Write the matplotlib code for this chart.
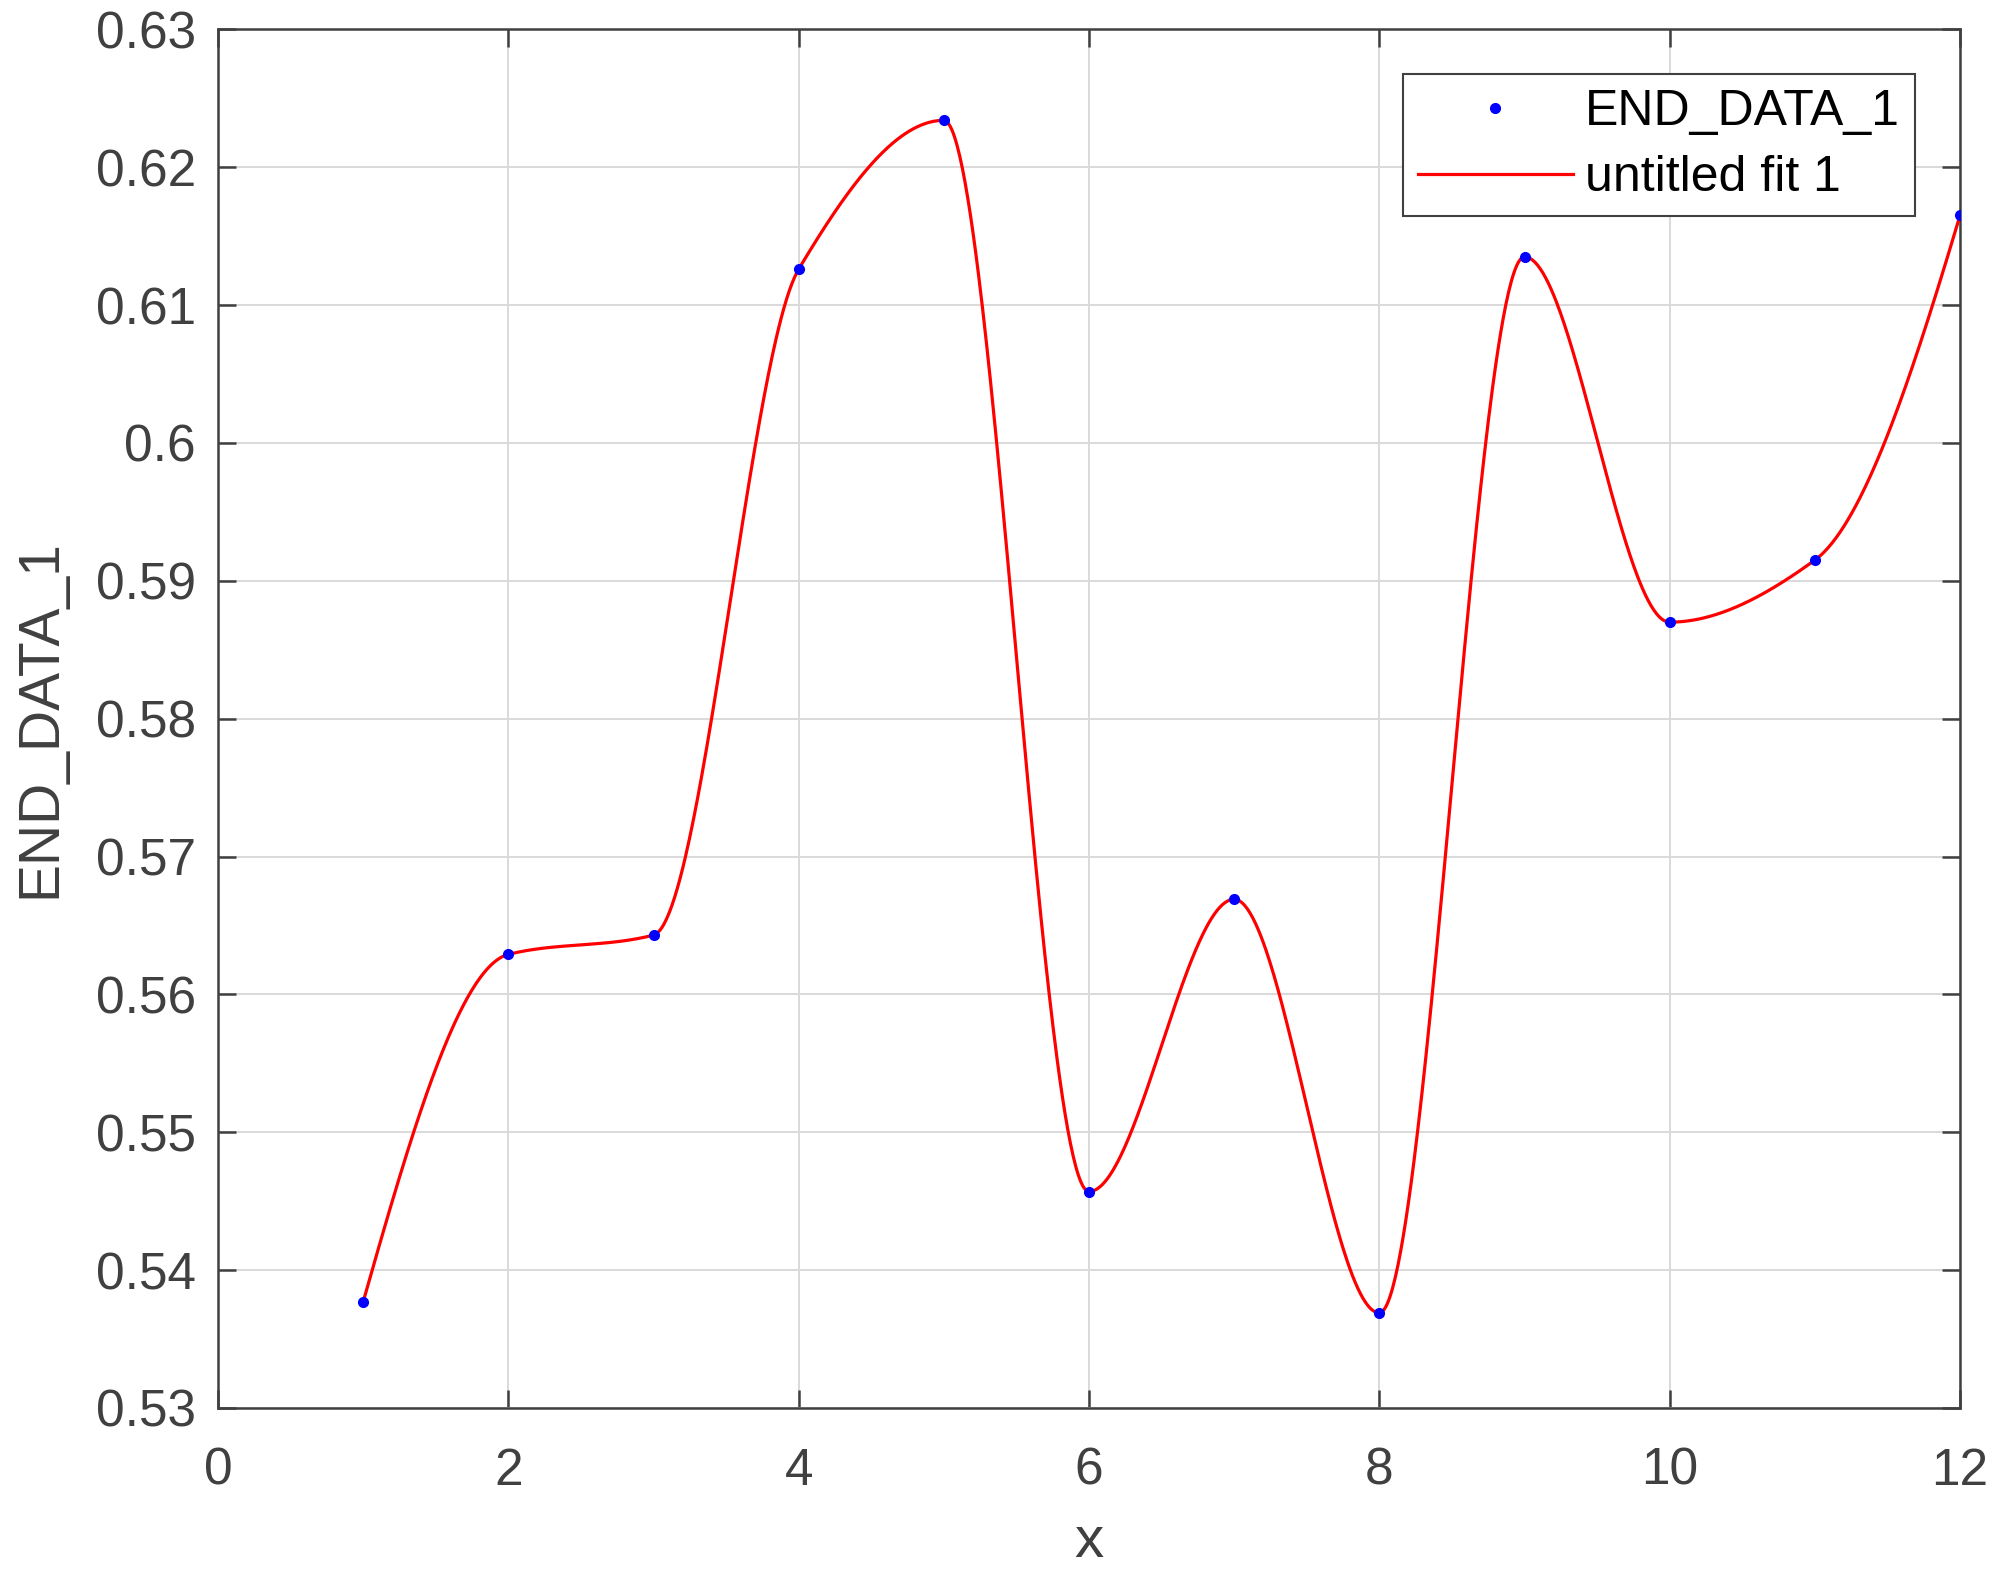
import numpy as np
import matplotlib
matplotlib.use('Agg')
import matplotlib.pyplot as plt

# data points
x_data = [1, 2, 3, 4, 5, 6, 7, 8, 9, 10, 11, 12]
y_data = [0.5377, 0.5629, 0.5643, 0.6126, 0.6234, 0.5457,
          0.5669, 0.5369, 0.6135, 0.5870, 0.5915, 0.6165]

x_ticks = [0, 2, 4, 6, 8, 10, 12]
y_ticks = [0.53, 0.54, 0.55, 0.56, 0.57, 0.58, 0.59, 0.60, 0.61, 0.62, 0.63]
y_ticklabels = ['0.53', '0.54', '0.55', '0.56', '0.57', '0.58', '0.59', '0.6', '0.61', '0.62', '0.63']


def pchip_slopes(x, y):
    h = np.diff(x)
    d = np.diff(y) / h
    m = np.zeros_like(y)
    for k in range(1, len(x) - 1):
        if d[k - 1] * d[k] > 0:
            w1 = 2 * h[k] + h[k - 1]
            w2 = h[k] + 2 * h[k - 1]
            m[k] = (w1 + w2) / (w1 / d[k - 1] + w2 / d[k])
    # end points
    for i, (h0, h1, d0, d1) in ((0, (h[0], h[1], d[0], d[1])), (-1, (h[-1], h[-2], d[-1], d[-2]))):
        s = ((2 * h0 + h1) * d0 - h0 * d1) / (h0 + h1)
        if np.sign(s) != np.sign(d0):
            s = 0.0
        elif np.sign(d0) != np.sign(d1) and abs(s) > abs(3 * d0):
            s = 3 * d0
        m[i] = s
    return m


def pchip_eval(x, y, xq):
    m = pchip_slopes(x, y)
    idx = np.clip(np.searchsorted(x, xq) - 1, 0, len(x) - 2)
    h = x[idx + 1] - x[idx]
    t = (xq - x[idx]) / h
    h00 = 2 * t**3 - 3 * t**2 + 1
    h10 = t**3 - 2 * t**2 + t
    h01 = -2 * t**3 + 3 * t**2
    h11 = t**3 - t**2
    return h00 * y[idx] + h10 * h * m[idx] + h01 * y[idx + 1] + h11 * h * m[idx + 1]


xd = np.array(x_data, dtype=float)
yd = np.array(y_data, dtype=float)
xf = np.linspace(xd[0], xd[-1], 1200)
yf = pchip_eval(xd, yd, xf)

plt.rcParams['font.family'] = ['Liberation Sans', 'DejaVu Sans']
axis_col = '#404040'

fig = plt.figure(figsize=(20, 15.94), dpi=100)
ax = fig.add_axes([0.109, 0.1167, 0.871, 0.8649])

ax.plot(xd, yd, 'o', color='#0000ff', markersize=7, label='END_DATA_1', zorder=4)
ax.plot(xf, yf, '-', color='#ff0000', linewidth=2.3, label='untitled fit 1', zorder=3)

ax.set_xlim(0, 12)
ax.set_ylim(0.53, 0.63)
ax.set_xticks(x_ticks)
ax.set_yticks(y_ticks)
ax.set_yticklabels(y_ticklabels)
ax.grid(True, color='#d9d9d9', linewidth=1.4)
ax.set_axisbelow(True)

ax.tick_params(direction='in', length=13, width=1.8, colors=axis_col,
               labelsize=37, top=True, right=True)
ax.tick_params(axis='y', pad=16)
ax.tick_params(axis='x', pad=28)
for sp in ax.spines.values():
    sp.set_color(axis_col)
    sp.set_linewidth(1.8)

ax.set_xlabel('x', fontsize=42, color=axis_col, labelpad=14)
ax.set_ylabel('END_DATA_1', fontsize=41, color=axis_col, labelpad=20)

leg = ax.legend(loc='upper right', fontsize=36, handlelength=3.1, handletextpad=0.25,
                borderaxespad=0.9, fancybox=False, framealpha=1, borderpad=0.3,
                labelspacing=0.4)
leg.get_frame().set_edgecolor(axis_col)
leg.get_frame().set_linewidth(1.5)

fig.savefig('out.png', dpi=100)
